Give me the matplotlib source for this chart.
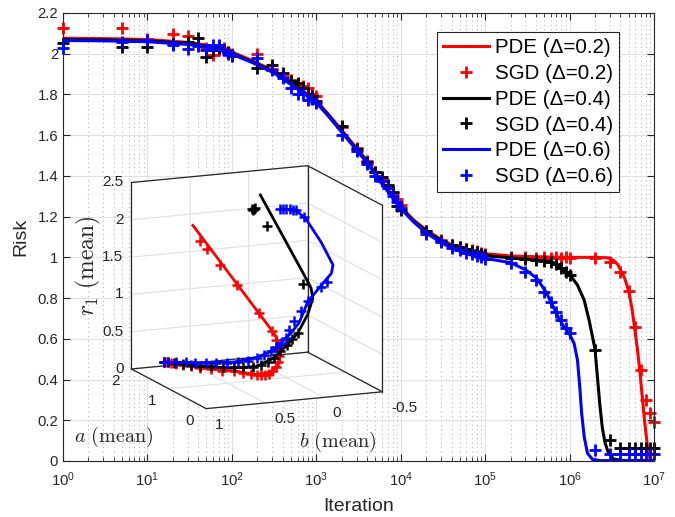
import numpy as np
import matplotlib
matplotlib.use('Agg')
import matplotlib.pyplot as plt
from matplotlib.ticker import LogLocator, NullFormatter, FuncFormatter, LogFormatterSciNotation
from mpl_toolkits.mplot3d import proj3d

plt.rcParams['font.family'] = ['Liberation Sans', 'DejaVu Sans']
plt.rcParams['grid.color'] = '#e2e2e2'
plt.rcParams['grid.linewidth'] = 0.8

# ---------------- data: main plot ----------------
iters = [1, 5, 10, 20, 30, 40, 50, 60, 70, 80, 90, 100,
         200, 300, 400, 500, 600, 700, 800, 900, 1000,
         2000, 3000, 4000, 5000, 6000, 7000, 8000, 9000, 10000,
         20000, 30000, 40000, 50000, 60000, 70000, 80000, 90000, 100000,
         2e5, 3e5, 4e5, 5e5, 6e5, 7e5, 8e5, 9e5, 1e6,
         2e6, 3e6, 4e6, 5e6, 6e6, 7e6, 8e6, 9e6, 1e7]

sgd_red = [2.125, 2.125, 2.07, 2.097, 2.087, 2.05, 2.03, 1.995, 2.02, 2.03, 2.01, 2.0,
           2.0, 1.925, 1.89, 1.87, 1.85, 1.84, 1.83, 1.80, 1.79,
           1.64, 1.535, 1.475, 1.42, 1.385, 1.35, 1.315, 1.285, 1.255,
           1.13, 1.085, 1.06, 1.05, 1.04, 1.035, 1.03, 1.02, 1.015,
           1.0, 1.0, 0.998, 1.0, 0.998, 1.0, 0.998, 1.0, 0.998,
           0.996, 0.979, 0.93, 0.835, 0.66, 0.447, 0.30, 0.234, 0.193]
sgd_black = [2.055, 2.035, 2.035, 2.05, 2.06, 2.075, 1.985, 2.02, 2.03, 2.02, 2.01, 1.99,
             1.93, 1.945, 1.905, 1.865, 1.855, 1.83, 1.80, 1.79, 1.77,
             1.645, 1.53, 1.47, 1.42, 1.395, 1.355, 1.32, 1.25, 1.235,
             1.13, 1.08, 1.06, 1.053, 1.04, 1.03, 1.027, 1.015, 1.01,
             0.998, 0.99, 0.985, 0.98, 0.975, 0.965, 0.95, 0.93, 0.914,
             0.545, 0.103, 0.062, 0.062, 0.062, 0.062, 0.062, 0.062, 0.062]
sgd_blue = [2.027, 2.06, 2.068, 2.043, 2.022, 2.038, 2.02, 2.045, 2.043, 2.02, 2.0, 1.995,
            1.978, 1.92, 1.88, 1.83, 1.80, 1.80, 1.773, 1.78, 1.76,
            1.60, 1.52, 1.46, 1.40, 1.375, 1.34, 1.30, 1.27, 1.24,
            1.115, 1.075, 1.045, 1.035, 1.02, 1.015, 1.005, 1.0, 0.99,
            0.974, 0.93, 0.89, 0.83, 0.78, 0.73, 0.69, 0.655, 0.627,
            0.054, 0.035, 0.035, 0.035, 0.035, 0.035, 0.035, 0.035, 0.035]

pde_red_x = [1, 3.16, 10, 31.6, 63.1, 100, 178, 316, 562, 1000, 1413, 1995, 2818, 3981,
             5623, 7943, 1e4, 1.41e4, 2.0e4, 2.82e4, 3.98e4, 6.31e4, 1e5, 2e5, 4e5, 1e6,
             2e6, 2.82e6, 3.31e6, 3.72e6, 4.47e6, 5.01e6, 5.50e6, 5.89e6, 6.31e6, 6.76e6,
             7.24e6, 7.76e6, 8.32e6, 8.91e6, 9.55e6, 1e7]
pde_red_y = [2.076, 2.074, 2.07, 2.055, 2.035, 2.008, 1.965, 1.915, 1.845, 1.77, 1.70, 1.625,
             1.55, 1.475, 1.385, 1.305, 1.25, 1.185, 1.135, 1.095, 1.062, 1.035, 1.018, 1.007,
             1.003, 1.0, 1.0, 0.998, 0.985, 0.965, 0.90, 0.835, 0.745, 0.655, 0.56, 0.45,
             0.32, 0.19, 0.08, 0.015, 0.002, 0.001]
pde_black_x = [1, 3.16, 10, 31.6, 63.1, 100, 178, 316, 562, 1000, 1413, 1995, 2818, 3981,
               5623, 7943, 1e4, 1.41e4, 2.0e4, 2.82e4, 3.98e4, 6.31e4, 1e5, 2e5, 3.16e5,
               6.0e5, 8.6e5, 1.03e6, 1.24e6, 1.49e6, 1.70e6, 2.0e6, 2.14e6, 2.29e6, 2.45e6,
               2.63e6, 2.88e6, 3.31e6, 4.37e6, 1e7]
pde_black_y = [2.07, 2.068, 2.064, 2.05, 2.03, 2.003, 1.96, 1.91, 1.84, 1.765, 1.695, 1.62,
               1.545, 1.47, 1.38, 1.30, 1.245, 1.18, 1.13, 1.09, 1.056, 1.028, 1.008, 0.998,
               0.99, 0.979, 0.938, 0.909, 0.864, 0.79, 0.693, 0.55, 0.41, 0.27, 0.16, 0.09,
               0.04, 0.01, 0.002, 0.002]
pde_blue_x = [1, 3.16, 10, 31.6, 63.1, 100, 178, 316, 562, 1000, 1413, 1995, 2818, 3981,
              5623, 7943, 1e4, 1.41e4, 2.0e4, 2.82e4, 3.98e4, 6.31e4, 1e5, 2.01e5, 3.03e5,
              4.09e5, 5.22e5, 6.27e5, 7.31e5, 8.45e5, 9.86e5, 1.13e6, 1.24e6, 1.32e6,
              1.39e6, 1.49e6, 1.63e6, 1.87e6, 2.29e6, 1e7]
pde_blue_y = [2.065, 2.063, 2.059, 2.045, 2.025, 1.998, 1.955, 1.905, 1.835, 1.76, 1.69, 1.615,
              1.54, 1.465, 1.375, 1.295, 1.24, 1.175, 1.12, 1.08, 1.045, 1.015, 0.995, 0.974,
              0.938, 0.897, 0.832, 0.766, 0.709, 0.663, 0.627, 0.578, 0.496, 0.365, 0.234,
              0.119, 0.038, 0.008, 0.002, 0.002]

labels = ['PDE (\u0394=0.2)', 'SGD (\u0394=0.2)', 'PDE (\u0394=0.4)',
          'SGD (\u0394=0.4)', 'PDE (\u0394=0.6)', 'SGD (\u0394=0.6)']
xticks = [1, 10, 100, 1000, 1e4, 1e5, 1e6, 1e7]
yticks = [0, 0.2, 0.4, 0.6, 0.8, 1.0, 1.2, 1.4, 1.6, 1.8, 2.0, 2.2]

# ---------------- data: inset (a, b, r1) ----------------
red3_a = [2.0, 1.7, 1.4, 1.15, 1.0, 1.0, 1.0, 1.0, 1.0, 1.0]
red3_b = [0.72, 0.51, 0.32, 0.20, 0.13, 0.06, 0.05, 0.06, 0.105, 0.795]
red3_r = [0.05, 0.02, 0.03, 0.03, 0.09, 0.21, 0.34, 0.47, 0.61, 2.16]
blk3_a = [2.0, 1.7, 1.4, 1.15, 1.0, 1.0, 1.0, 1.0, 1.0, 1.0, 1.0, 1.0]
blk3_b = [0.72, 0.51, 0.32, 0.20, 0.105, -0.01, -0.097, -0.183, -0.226, -0.211, -0.153, 0.22]
blk3_r = [0.05, 0.04, 0.07, 0.14, 0.28, 0.44, 0.58, 0.82, 1.03, 1.17, 1.35, 2.48]
blu3_a = [2.0, 1.7, 1.4, 1.15, 1.0, 1.0, 1.0, 1.0, 1.0, 1.0, 1.0, 1.0, 1.0, 1.0, 1.0, 1.0]
blu3_b = [0.72, 0.51, 0.32, 0.20, 0.134, 0.047, -0.039, -0.11, -0.183, -0.326, -0.384,
          -0.398, -0.297, -0.168, -0.082, 0.047]
blu3_r = [0.05, 0.09, 0.15, 0.26, 0.37, 0.47, 0.59, 0.72, 0.99, 1.24, 1.34, 1.45, 1.77,
          2.10, 2.23, 2.27]

sred3_a = [2.0, 1.98, 1.95, 1.9, 1.85, 1.78, 1.7, 1.6, 1.5, 1.4, 1.3, 1.22, 1.15, 1.1,
           1.06, 1.03, 1.0, 1.0, 1.0, 1.0, 1.0, 1.0, 1.0, 1.0, 1.0, 1.0, 1.0, 1.0]
sred3_b = [0.72, 0.70, 0.68, 0.65, 0.61, 0.56, 0.51, 0.45, 0.39, 0.32, 0.27, 0.23, 0.20,
           0.18, 0.16, 0.14, 0.12, 0.09, 0.07, 0.06, 0.07, 0.09, 0.119, 0.234, 0.421,
           0.565, 0.679, 0.737]
sred3_r = [0.05, 0.05, 0.04, 0.04, 0.03, 0.03, 0.02, 0.03, 0.02, 0.03, 0.02, 0.03, 0.02,
           0.03, 0.04, 0.06, 0.10, 0.15, 0.22, 0.30, 0.40, 0.52, 0.636, 0.906, 1.30,
           1.596, 1.825, 1.944]
sblk3_a = [2.0, 1.97, 1.92, 1.85, 1.78, 1.7, 1.6, 1.5, 1.4, 1.3, 1.2, 1.12, 1.05, 1.0,
           1.0, 1.0, 1.0, 1.0, 1.0, 1.0, 1.0, 1.0, 1.0, 1.0]
sblk3_b = [0.72, 0.70, 0.66, 0.61, 0.56, 0.51, 0.45, 0.38, 0.32, 0.27, 0.22, 0.18, 0.14,
           0.105, 0.05, -0.01, -0.05, -0.097, -0.14, 0.278, 0.27, 0.285, 0.29, 0.162]
sblk3_r = [0.05, 0.06, 0.05, 0.05, 0.04, 0.05, 0.06, 0.06, 0.08, 0.10, 0.12, 0.17, 0.22,
           0.28, 0.36, 0.44, 0.51, 0.58, 1.229, 2.30, 2.31, 2.29, 2.30, 2.052]
sblu3_a = [2.0, 1.96, 1.9, 1.82, 1.75, 1.65, 1.55, 1.45, 1.35, 1.25, 1.15, 1.08, 1.0,
           1.0, 1.0, 1.0, 1.0, 1.0, 1.0, 1.0, 1.0, 1.0, 1.0, 1.0, 1.0, 1.0, 1.0, 1.0, 1.0]
sblu3_b = [0.72, 0.70, 0.65, 0.59, 0.54, 0.48, 0.42, 0.36, 0.30, 0.25, 0.20, 0.16, 0.134,
           0.09, 0.047, 0.0, -0.024, -0.067, -0.125, -0.183, -0.297, -0.343, 0.05, 0.03,
           0.0, -0.03, -0.06, -0.08, -0.153]
sblu3_r = [0.05, 0.06, 0.07, 0.08, 0.08, 0.10, 0.11, 0.13, 0.16, 0.20, 0.255, 0.31, 0.373,
           0.42, 0.472, 0.53, 0.638, 0.743, 0.868, 0.993, 1.175, 1.23, 2.27, 2.265, 2.26,
           2.25, 2.24, 2.23, 2.127]

a_lim = (0, 2)
b_lim = (-0.5, 1)
r_lim = (0, 2.5)
a_ticks = [0, 1, 2]
b_ticks = [-0.5, 0, 0.5, 1]
r_ticks = [0, 0.5, 1, 1.5, 2, 2.5]

# ---------------- figure ----------------
W, H = 675, 517
fig = plt.figure(figsize=(W / 100, H / 100), dpi=100)
ink = '#262626'

ax = fig.add_axes([63 / W, 1 - 461 / H, 591 / W, 448 / H])
ax.set_xscale('log')
ax.set_xlim(1, 1e7)
ax.set_ylim(0, 2.2)
ax.set_xticks(xticks)
ax.xaxis.set_major_formatter(LogFormatterSciNotation())
ax.set_yticks(yticks)
ax.yaxis.set_major_formatter(FuncFormatter(lambda v, p: f'{v:g}'))
ax.xaxis.set_minor_locator(LogLocator(base=10, subs=np.arange(2, 10), numticks=100))
ax.xaxis.set_minor_formatter(NullFormatter())
ax.grid(which='major', color='#e0e0e0', lw=0.8, ls='-')
ax.grid(which='minor', axis='x', color='#b8b8b8', lw=0.8, ls=(0, (1, 3)))
ax.set_axisbelow(True)
ax.tick_params(which='both', direction='in', top=True, right=True, colors=ink,
               labelsize=10.7)
ax.tick_params(which='major', length=5)
ax.tick_params(which='minor', length=3)
ax.tick_params(axis='x', pad=7)
for s in ax.spines.values():
    s.set_color(ink)
    s.set_linewidth(0.8)

lw = 2.2
ms, mew = 8, 2.0
ax.plot(pde_red_x, pde_red_y, color='r', lw=lw, label=labels[0])
ax.plot(iters, sgd_red, ls='none', marker='+', ms=ms, mew=mew, color='r',
        clip_on=False, label=labels[1])
ax.plot(pde_black_x, pde_black_y, color='k', lw=lw, label=labels[2])
ax.plot(iters, sgd_black, ls='none', marker='+', ms=ms, mew=mew, color='k',
        clip_on=False, label=labels[3])
ax.plot(pde_blue_x, pde_blue_y, color='b', lw=lw, label=labels[4])
ax.plot(iters, sgd_blue, ls='none', marker='+', ms=ms, mew=mew, color='b',
        clip_on=False, label=labels[5])

ax.set_xlabel('Iteration', fontsize=14, color=ink, labelpad=6.5)
ax.set_ylabel('Risk', fontsize=14, color=ink, labelpad=6)

leg = ax.legend(loc='upper right', bbox_to_anchor=(619 / W, 1 - 32 / H),
                bbox_transform=fig.transFigure, borderaxespad=0, fancybox=False,
                edgecolor=ink, framealpha=1, fontsize=14.8, handlelength=2.2,
                handletextpad=0.3, labelspacing=0.33, borderpad=0.3, numpoints=1)
leg.get_frame().set_linewidth(0.8)

# ---------------- 3D inset ----------------
ax3 = fig.add_axes([0.15, 0.2, 0.45, 0.45], projection='3d', computed_zorder=False)
ax3.set_proj_type('ortho')
ax3.view_init(elev=13, azim=157)
ax3.set_box_aspect((1, 1, 1))
try:
    ax3.set_xlim(*a_lim, view_margin=0)
    ax3.set_ylim(*b_lim, view_margin=0)
    ax3.set_zlim(*r_lim, view_margin=0)
except TypeError:
    ax3.set_xlim(*a_lim)
    ax3.set_ylim(*b_lim)
    ax3.set_zlim(*r_lim)
ax3.set_xticks(a_ticks)
ax3.set_yticks(b_ticks)
ax3.set_zticks(r_ticks)
ax3.set_facecolor((1, 1, 1, 0))
for axis in (ax3.xaxis, ax3.yaxis, ax3.zaxis):
    axis.set_pane_color((1, 1, 1, 1))
    axis.pane.set_edgecolor((1, 1, 1, 0))
    axis.line.set_color((1, 1, 1, 0))
    axis.set_major_formatter(NullFormatter())
    axis.set_tick_params(label1On=False, label2On=False)
    axis.set_label_text('')
    axis.label.set_visible(False)
    axis.offsetText.set_visible(False)
    axis._axinfo['tick']['inward_factor'] = 0.0
    axis._axinfo['tick']['outward_factor'] = 0.0
    axis._axinfo['grid'].update({'color': '#e0e0e0', 'linewidth': 0.8})

a0, a1 = a_lim
b0, b1 = b_lim
r0, r1 = r_lim
edges = [((a1, a1), (b1, b1), (r0, r1)),
         ((a1, a0), (b1, b1), (r0, r0)),
         ((a0, a0), (b1, b0), (r0, r0)),
         ((a1, a1), (b0, b0), (r0, r1)),
         ((a0, a0), (b0, b0), (r0, r1)),
         ((a1, a1), (b1, b0), (r1, r1)),
         ((a1, a0), (b0, b0), (r1, r1)),
         ((a1, a0), (b0, b0), (r0, r0)),
         ((a1, a1), (b1, b0), (r0, r0))]
for ex, ey, ez in edges:
    ax3.plot(ex, ey, ez, color=ink, lw=0.9)

lw3 = 2.0
ms3, mew3 = 6.5, 1.8
ax3.plot(red3_a, red3_b, red3_r, color='r', lw=lw3)
ax3.plot(sred3_a, sred3_b, sred3_r, ls='none', marker='+', ms=ms3, mew=mew3, color='r')
ax3.plot(blk3_a, blk3_b, blk3_r, color='k', lw=lw3)
ax3.plot(sblk3_a, sblk3_b, sblk3_r, ls='none', marker='+', ms=ms3, mew=mew3, color='k')
ax3.plot(blu3_a, blu3_b, blu3_r, color='b', lw=lw3)
ax3.plot(sblu3_a, sblu3_b, sblu3_r, ls='none', marker='+', ms=ms3, mew=mew3, color='b')


def project(axx, pts):
    pts = np.asarray(pts, dtype=float)
    M = axx.get_proj()
    xs, ys, _ = proj3d.proj_transform(pts[:, 0], pts[:, 1], pts[:, 2], M)
    return axx.transData.transform(np.column_stack([xs, ys]))


# fit the inset box onto the reference box corners (pixel targets, y down)
corners = [(a1, b1, r0), (a0, b1, r0), (a0, b0, r0), (a1, b0, r0),
           (a1, b1, r1), (a1, b0, r1), (a0, b0, r1)]
targets_px = [(132, 369), (207, 409), (381, 393), (308, 353),
              (132, 181), (308, 165), (381, 205)]
tgt = np.array([(x, H - y) for x, y in targets_px], dtype=float)
for _ in range(2):
    fig.canvas.draw()
    p = project(ax3, corners)
    bb = ax3.get_position()
    c0 = np.array([(bb.x0 + bb.x1) / 2 * W, (bb.y0 + bb.y1) / 2 * H])
    s0 = bb.width * W
    q = (p - c0) / s0
    qm, tm = q.mean(0), tgt.mean(0)
    s = ((q - qm) * (tgt - tm)).sum() / ((q - qm) ** 2).sum()
    c = tm - s * qm
    ax3.set_position([(c[0] - s / 2) / W, (c[1] - s / 2) / H, s / W, s / H])
fig.canvas.draw()

# inset tick labels
tfs = 11
for v in r_ticks:
    (x, y), = project(ax3, [(a1, b1, v)])
    fig.text((x - 8) / W, y / H, f'{v:g}', ha='right', va='center', fontsize=tfs, color=ink)
for v in a_ticks:
    (x, y), = project(ax3, [(v, b1, r0)])
    fig.text((x - 12) / W, (y - 12) / H, f'{v:g}', ha='right', va='center', fontsize=tfs,
             color=ink)
for v in b_ticks:
    (x, y), = project(ax3, [(a0, v, r0)])
    fig.text((x + 9) / W, (y - 16) / H, f'{v:g}', ha='left', va='center', fontsize=tfs,
             color=ink)

fig.text(114 / W, 1 - 437 / H, r'$a\ \mathrm{(mean)}$', math_fontfamily='cm',
         fontsize=14.5, ha='center', va='center', color=ink)
fig.text(338 / W, 1 - 442 / H, r'$b\ \mathrm{(mean)}$', math_fontfamily='cm',
         fontsize=14.5, ha='center', va='center', color=ink)
fig.text(88 / W, 1 - 266 / H, r'$r_1\ \mathrm{(mean)}$', math_fontfamily='cm',
         fontsize=17, ha='center', va='center', rotation=90, color=ink)

fig.savefig('out.png', dpi=100)
